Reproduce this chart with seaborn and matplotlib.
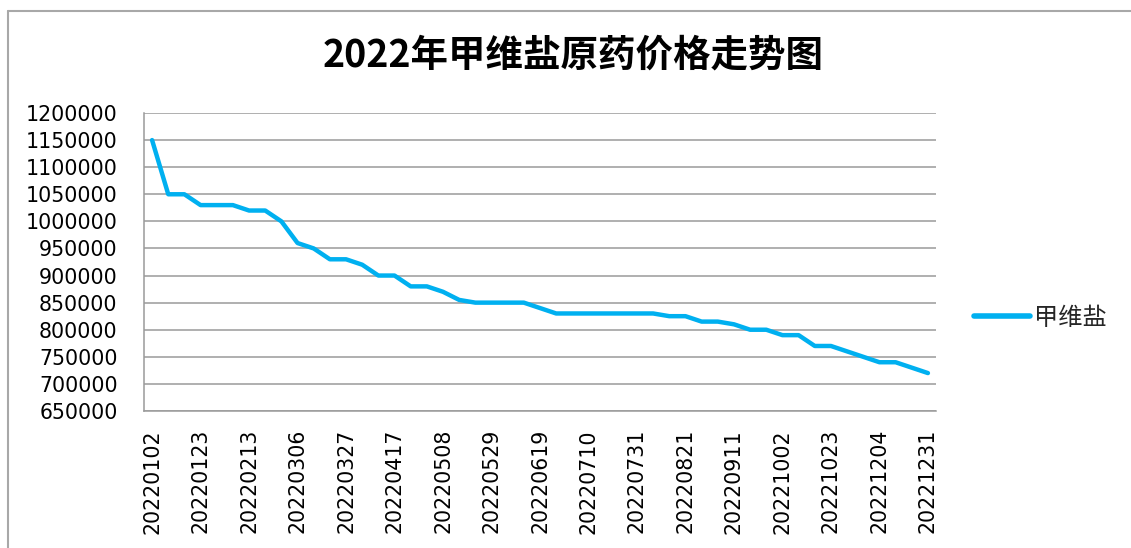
import numpy as np
import pandas as pd
import matplotlib
matplotlib.use("Agg")
import matplotlib.pyplot as plt
import seaborn as sns
from matplotlib.lines import Line2D
from matplotlib.ticker import FixedLocator, NullFormatter

dates = [
    "20220102", "20220109", "20220116", "20220123", "20220130", "20220206", "20220213",
    "20220220", "20220227", "20220306", "20220313", "20220320", "20220327", "20220403",
    "20220410", "20220417", "20220424", "20220501", "20220508", "20220515", "20220522",
    "20220529", "20220605", "20220612", "20220619", "20220626", "20220703", "20220710",
    "20220717", "20220724", "20220731", "20220807", "20220814", "20220821", "20220828",
    "20220904", "20220911", "20220918", "20220925", "20221002", "20221009", "20221016",
    "20221023", "20221106", "20221120", "20221204", "20221211", "20221218", "20221231",
]
prices = [
    1150000, 1050000, 1050000, 1030000, 1030000, 1030000, 1020000,
    1020000, 1000000, 960000, 950000, 930000, 930000, 920000,
    900000, 900000, 880000, 880000, 870000, 855000, 850000,
    850000, 850000, 850000, 840000, 830000, 830000, 830000,
    830000, 830000, 830000, 830000, 825000, 825000, 815000,
    815000, 810000, 800000, 800000, 790000, 790000, 770000,
    770000, 760000, 750000, 740000, 740000, 730000, 720000,
]
series_name = "甲维盐"
title = "2022年甲维盐原药价格走势图"
y_ticks = list(range(650000, 1200001, 50000))

df = pd.DataFrame({"idx": np.arange(len(dates)), "price": prices, "date": dates})

sns.set_style("white")
plt.rcParams["font.family"] = ["DejaVu Sans", "Noto Sans CJK SC"]

W, H = 1131, 548
fig = plt.figure(figsize=(W / 100, H / 100), dpi=100)
ax = fig.add_axes([144 / W, 1 - 411 / H, (936 - 144) / W, (411 - 113) / H])

sns.lineplot(data=df, x="idx", y="price", ax=ax, color="#00B0F0", linewidth=3.2,
             label=series_name, legend=False)

ax.set_xlim(-0.5, len(dates) - 0.5)
ax.set_ylim(650000, 1200000)
ax.set_yticks(y_ticks)
ax.set_yticklabels([str(v) for v in y_ticks], fontsize=14.8, color="#000000")
ax.yaxis.grid(True, color="#9a9a9a", linewidth=1.1)
ax.xaxis.grid(False)

label_idx = list(range(0, len(dates), 3))
ax.set_xticks(label_idx)
ax.set_xticklabels([dates[i] for i in label_idx], rotation=90, fontsize=14.8, color="#000000")
ax.tick_params(axis="x", which="major", length=0, pad=13)
ax.xaxis.set_minor_locator(FixedLocator(np.arange(-0.5, len(dates), 1.0)))
ax.xaxis.set_minor_formatter(NullFormatter())
ax.tick_params(axis="x", which="minor", length=7, width=1.1, color="#9a9a9a", direction="out")
ax.tick_params(axis="y", which="major", length=7, width=1.1, color="#9a9a9a", direction="out", pad=12)
ax.set_xlabel("")
ax.set_ylabel("")

for s in ["top", "right"]:
    ax.spines[s].set_visible(False)
for s in ["left", "bottom"]:
    ax.spines[s].set_color("#9a9a9a")
    ax.spines[s].set_linewidth(1.1)

fig.text(573 / W, 1 - 55 / H, title, ha="center", va="center", fontsize=27,
         fontweight="bold", family=["Noto Sans CJK SC", "DejaVu Sans"], color="#000000")

handle = Line2D([], [], color="#00B0F0", linewidth=4)
fig.legend([handle], [series_name], loc="center left",
           bbox_to_anchor=(974 / W, 1 - 318 / H), frameon=False,
           prop={"family": ["Noto Sans CJK SC", "DejaVu Sans"], "size": 17.5},
           handlelength=2.3, handletextpad=0.15, borderpad=0, borderaxespad=0)

# outer chart frame (top and left edges visible in the reference)
fig.add_artist(Line2D([8 / W, 1], [1 - 11 / H, 1 - 11 / H], color="#a8a8a8", linewidth=1.5,
                      transform=fig.transFigure))
fig.add_artist(Line2D([8 / W, 8 / W], [0, 1 - 11 / H], color="#a8a8a8", linewidth=1.5,
                      transform=fig.transFigure))

fig.savefig("out.png", dpi=100)
